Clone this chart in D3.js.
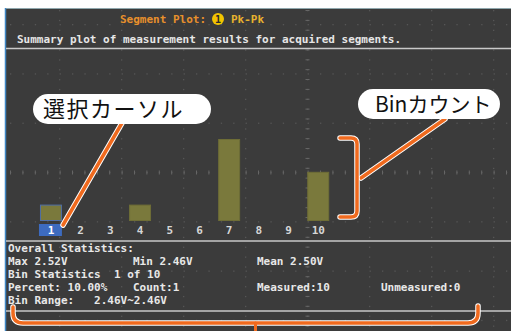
<!DOCTYPE html>
<html>
<head>
<meta charset="utf-8">
<script src="https://cdn.jsdelivr.net/npm/d3@7"></script>
<style>
  html, body { margin: 0; padding: 0; background: #ffffff; }
  svg { display: block; }
  text { white-space: pre; }
</style>
</head>
<body>
<svg id="chart" width="511" height="331"></svg>
<script>
// Segment histogram data
const bins = ["1", "2", "3", "4", "5", "6", "7", "8", "9", "10"];
const counts = [1, 0, 0, 1, 0, 0, 5, 0, 0, 3];
const selectedBin = "1";
const countTicks = [0, 5];

const titleText = "Segment Plot:";
const sourceLabel = "1";
const measureName = "Pk-Pk";
const subtitle = "Summary plot of measurement results for acquired segments.";

const overallHeader = "Overall Statistics:";
const overallStats = ["Max 2.52V", "Min 2.46V", "Mean 2.50V"];
const binHeader = "Bin Statistics  1 of 10";
const binStats = ["Percent: 10.00%", "Count:1", "Measured:10", "Unmeasured:0"];
const binRange = "Bin Range:   2.46V~2.46V";

const calloutCursor = "選択カーソル";
const calloutCount = "Binカウント";

const svg = d3.select("#chart");
const mono = "'DejaVu Sans Mono', 'Liberation Mono', monospace";
const cjk = "'Noto Sans CJK JP', 'Noto Sans', sans-serif";

// screen panel
const screen = { x: 6, y: 8, w: 505, h: 323 };
svg.append("rect").attr("x", screen.x).attr("y", screen.y)
  .attr("width", screen.w).attr("height", screen.h).attr("fill", "#3b3b3b");
svg.append("line").attr("x1", screen.x).attr("x2", 511).attr("y1", 8.5).attr("y2", 8.5)
  .attr("stroke", "#8fa7ad").attr("stroke-width", 1);
svg.append("line").attr("x1", 5.5).attr("x2", 5.5).attr("y1", 8).attr("y2", 331)
  .attr("stroke", "#3f86c4").attr("stroke-width", 1.5);

// dotted graticule
const grid = svg.append("g").attr("fill", "#565656");
const gxs = d3.range(-3, 511, 62);
const gys = d3.range(24, 331, 49.3);
gys.forEach(y => {
  d3.range(screen.x + 4, 511, 12.4).forEach(x => {
    grid.append("rect").attr("x", x).attr("y", y).attr("width", 1.3).attr("height", 1.3);
  });
});
gxs.forEach(x => {
  if (x < screen.x) return;
  d3.range(screen.y + 2, 331, 9.86).forEach(y => {
    grid.append("rect").attr("x", x).attr("y", y).attr("width", 1.3).attr("height", 1.3);
  });
});
// center axis ticks
const cx = 307, cy = 172;
d3.range(screen.x + 4, 511, 12.4).forEach(x => {
  grid.append("rect").attr("x", x).attr("y", cy - 1.5).attr("width", 1).attr("height", 4).attr("fill", "#666666");
});
d3.range(screen.y + 2, 331, 9.86).forEach(y => {
  grid.append("rect").attr("x", cx - 1.5).attr("y", y).attr("width", 4).attr("height", 1).attr("fill", "#666666");
});

// header
const title = svg.append("text").attr("y", 23).attr("font-family", mono)
  .attr("font-size", 11).attr("font-weight", "bold");
title.append("tspan").attr("x", 120).attr("fill", "#e8902c").text(titleText);
svg.append("circle").attr("cx", 218).attr("cy", 19).attr("r", 6).attr("fill", "#f2c400");
svg.append("text").attr("x", 218).attr("y", 23).attr("text-anchor", "middle")
  .attr("font-family", mono).attr("font-size", 10).attr("font-weight", "bold")
  .attr("fill", "#2b2b2b").text(sourceLabel);
svg.append("text").attr("x", 231).attr("y", 23).attr("font-family", mono)
  .attr("font-size", 11).attr("font-weight", "bold").attr("fill", "#e8b22e").text(measureName);

svg.append("text").attr("x", 17).attr("y", 43).attr("font-family", mono)
  .attr("font-size", 11).attr("font-weight", "bold").attr("fill", "#e6e6e6").text(subtitle);

const sep = y => svg.append("line").attr("x1", screen.x).attr("x2", 511)
  .attr("y1", y).attr("y2", y).attr("stroke", "#c9c9c9").attr("stroke-width", 1.3);
sep(48.5); sep(241); sep(311);

// histogram
const x = d3.scaleBand().domain(bins).range([36.1, 333.1]).paddingInner(0.26).paddingOuter(0.13);
const y = d3.scaleLinear().domain(d3.extent(countTicks)).range([221, 139]);

svg.append("g").selectAll("rect")
  .data(bins.map((b, i) => ({ bin: b, count: counts[i] })).filter(d => d.count > 0))
  .join("rect")
  .attr("x", d => x(d.bin) + 0.5)
  .attr("y", d => y(d.count) + 0.5)
  .attr("width", x.bandwidth() - 1)
  .attr("height", d => y(0) - y(d.count) - 1)
  .attr("fill", "#7a793c")
  .attr("stroke", d => d.bin === selectedBin ? "#4f6fa6" : "#6e6d36")
  .attr("stroke-width", 1);

// bin labels with selection cursor
svg.append("rect").attr("x", x(selectedBin) - 1).attr("y", 224)
  .attr("width", x.bandwidth() + 1).attr("height", 12).attr("fill", "#3d6bbf");

const axis = svg.append("g").attr("transform", "translate(0,224)")
  .call(d3.axisBottom(x).tickSize(0).tickPadding(2));
axis.select(".domain").remove();
axis.selectAll("text")
  .attr("font-family", mono).attr("font-size", 11).attr("font-weight", "bold")
  .attr("fill", d => d === selectedBin ? "#ffffff" : "#d6d6d6");

// statistics block
const stat = (tx, ty, s) => svg.append("text").attr("x", tx).attr("y", ty)
  .attr("font-family", mono).attr("font-size", 11).attr("font-weight", "bold")
  .attr("fill", "#e8e8e8").attr("xml:space", "preserve").text(s);
stat(8, 252, overallHeader);
const cols = [8, 133, 257, 381];
overallStats.forEach((s, i) => stat(cols[i], 265, s));
stat(8, 278, binHeader);
binStats.forEach((s, i) => stat(cols[i], 291, s));
stat(8, 304, binRange);

// annotations
const orange = "#f06a1e";
const annot = svg.append("g").attr("fill", "none").attr("stroke-linecap", "round").attr("stroke-linejoin", "round");
const drawPath = d => {
  annot.append("path").attr("d", d).attr("stroke", "#ffffff").attr("stroke-width", 5.5);
  annot.append("path").attr("d", d).attr("stroke", orange).attr("stroke-width", 3.5);
};
// leader lines
drawPath(`M122,123 L63,225`);
drawPath(`M445,119 L361,178`);
// right bracket spanning bar heights
drawPath(`M340,138 L351,138 Q357,138 357,144 L357,211 Q357,217 351,217 L340,217`);
// bottom bracket spanning statistics
drawPath(`M13,307 L13,313 Q13,323 23,323 L468,323 Q478,323 478,313 L478,306`);
annot.append("path").attr("d", "M255.5,323 L255.5,331").attr("stroke", orange).attr("stroke-width", 3);

// callout boxes
const callout = (bx, by, bw, bh, label, tx, fs, ls) => {
  svg.append("rect").attr("x", bx).attr("y", by).attr("width", bw).attr("height", bh)
    .attr("rx", bh / 2).attr("fill", "#ffffff");
  svg.append("text").attr("x", tx).attr("y", by + bh / 2 + fs * 0.36)
    .attr("font-family", cjk).attr("font-size", fs).attr("letter-spacing", ls)
    .attr("fill", "#111111").text(label);
};
callout(33, 94, 178, 30, calloutCursor, 43, 22, 1.5);
callout(358, 89, 142, 30, calloutCount, 375, 21, 0);
</script>
</body>
</html>
